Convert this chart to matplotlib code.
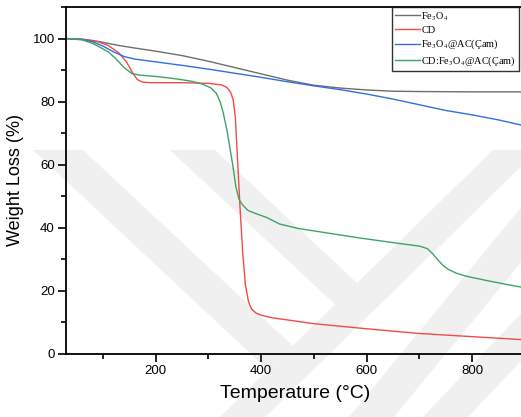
import matplotlib
matplotlib.use('Agg')

import matplotlib.pyplot as plt
from matplotlib.patches import Polygon
from matplotlib.ticker import MultipleLocator

# TGA curves

t_fe3o4 = [30, 60, 80, 100, 130, 160, 200, 250, 300, 350, 400, 450, 500,
           550, 600, 650, 700, 800, 900]
w_fe3o4 = [100, 99.8, 99.4, 98.8, 97.8, 97.0, 96.0, 94.6, 92.8, 90.8, 88.8,
           86.8, 85.2, 84.3, 83.7, 83.3, 83.2, 83.1, 83.1]

t_cd = [30, 60, 90, 110, 130, 145, 155, 165, 175, 190, 250, 300, 325, 335,
        342, 347, 351, 355, 360, 365, 370, 376, 382, 390, 400, 420, 450, 500,
        600, 700, 800, 900]
w_cd = [100, 99.8, 99.0, 97.8, 95.5, 92.5, 89.5, 87.0, 86.2, 86.0, 86.0,
        85.8, 85.3, 84.5, 83.0, 80.5, 75, 62, 46, 32, 22, 16.5, 14.2, 13.0,
        12.3, 11.5, 10.8, 9.6, 8.0, 6.5, 5.5, 4.5]

t_fe_ac = [30, 60, 80, 100, 120, 140, 160, 200, 250, 300, 350, 400, 450, 500,
           550, 600, 650, 700, 750, 800, 850, 900]
w_fe_ac = [100, 99.7, 99.0, 97.6, 95.8, 94.3, 93.5, 92.6, 91.5, 90.3, 89.0,
           87.7, 86.3, 85.0, 83.8, 82.4, 80.8, 79.0, 77.2, 75.8, 74.2, 72.3]

t_cd_fe_ac = [30, 60, 80, 95, 110, 125, 140, 155, 170, 200, 240, 270, 290,
              305, 315, 322, 328, 335, 340, 346, 352, 358, 365, 375, 390, 410,
              435, 470, 520, 586, 650, 700, 715, 725, 735, 745, 755, 770, 790,
              830, 870, 900]
w_cd_fe_ac = [100, 99.6, 98.5, 97.2, 95.8, 93.5, 90.8, 88.9, 88.4, 88.0, 87.2,
              86.4, 85.5, 84.3, 82.6, 80.0, 76.5, 71, 66, 60, 53, 49, 47.2,
              45.5, 44.5, 43.3, 41.2, 39.8, 38.5, 36.8, 35.3, 34.2, 33.4, 31.8,
              29.8, 28.0, 26.8, 25.6, 24.6, 23.2, 21.9, 21.0]

labels = [r'Fe$_3$O$_4$', 'CD', r'Fe$_3$O$_4$@AC(Çam)',
          r'CD:Fe$_3$O$_4$@AC(Çam)']
colors = ['#6e6e6e', '#f24a4a', '#2f6fe0', '#3aa566']


def main():

    W, H = 521, 417

    plt.rcParams['font.family'] = ['Liberation Sans', 'DejaVu Sans']
    plt.rcParams['mathtext.fontset'] = 'stix'

    fig = plt.figure(figsize=(W / 100, H / 100), dpi=100)

    #--------------------------------------------------------------------------
    # background watermark (pixel coords, y down)

    bands = [
        [(33, 150), (83, 150), (293, 346), (268, 370)],
        [(170, 150), (215, 150), (357, 283), (358, 326)],
        [(493, 150), (538, 150), (265, 417), (220, 417)],
        [(560, 160), (605, 160), (394, 417), (349, 417)],
        [(600, 230), (645, 230), (468, 417), (423, 417)],
    ]
    for b in bands:
        pts = [(x / W, 1 - y / H) for x, y in b]
        fig.patches.append(Polygon(pts, closed=True, transform=fig.transFigure,
                                   facecolor='#f0f0f0', edgecolor='none',
                                   zorder=-10))

    #--------------------------------------------------------------------------
    # axes

    ax = fig.add_axes([66 / W, 63 / H, 459 / W, 347 / H])
    ax.patch.set_alpha(0)

    series = [(t_fe3o4, w_fe3o4), (t_cd, w_cd), (t_fe_ac, w_fe_ac),
              (t_cd_fe_ac, w_cd_fe_ac)]
    lines = []
    for (t, w), c in zip(series, colors):
        ln, = ax.plot(t, w, color=c, lw=1.0)
        lines.append(ln)

    ax.set_xlim(30, 900)
    ax.set_ylim(0, 110)

    ax.xaxis.set_major_locator(MultipleLocator(200))
    ax.xaxis.set_minor_locator(MultipleLocator(100))
    ax.yaxis.set_major_locator(MultipleLocator(20))
    ax.yaxis.set_minor_locator(MultipleLocator(10))
    ax.tick_params(which='both', direction='out', width=1.2, labelsize=9.5,
                   colors='black')
    ax.tick_params(which='major', length=6, pad=2)
    ax.tick_params(which='minor', length=3.5)

    for s in ax.spines.values():
        s.set_linewidth(1.3)

    ax.set_xlabel('Temperature (°C)', fontsize=14, labelpad=6)
    ax.set_ylabel('Weight Loss (%)', fontsize=13, labelpad=6)

    leg = fig.legend(lines, labels, loc='upper left',
                     bbox_to_anchor=(392 / W, 1 - 7 / H),
                     prop={'family': 'Liberation Serif', 'size': 7.4},
                     frameon=True, fancybox=False, edgecolor='black',
                     handlelength=2.4, handletextpad=0.15, labelspacing=0.3,
                     borderpad=0.3, borderaxespad=0)
    leg.get_frame().set_linewidth(1.0)

    fig.savefig('out.png', dpi=100)


if __name__ == "__main__":
    main()
